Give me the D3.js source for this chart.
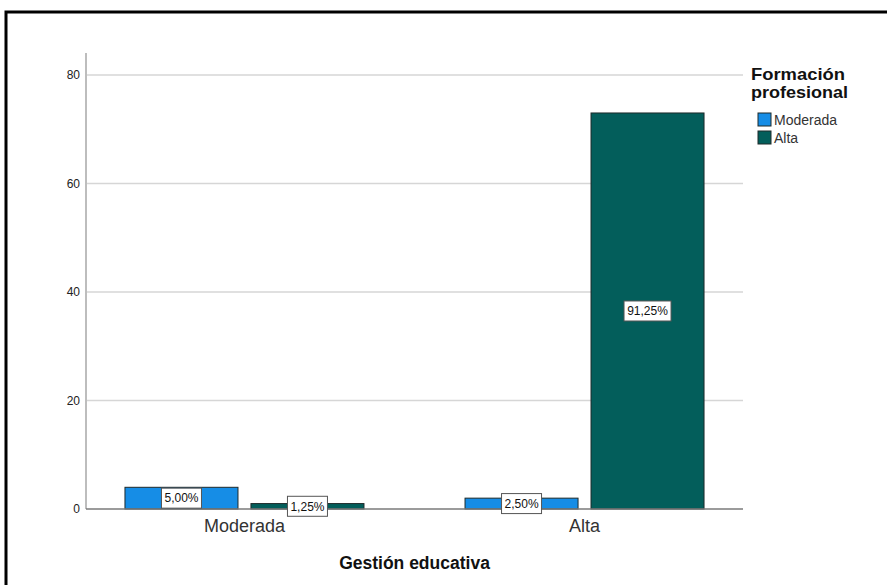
<!DOCTYPE html>
<html>
<head>
<meta charset="utf-8">
<script src="https://cdn.jsdelivr.net/npm/d3@7"></script>
<style>
  html, body { margin: 0; padding: 0; background: #fff; }
  svg { display: block; font-family: "Liberation Sans", Arial, sans-serif; }
</style>
</head>
<body>
<svg id="chart" width="887" height="585"></svg>
<script>
// Gestión educativa (x groups) by Formación profesional (series)
const categories = ["Moderada", "Alta"];
const seriesNames = ["Moderada", "Alta"];
const counts = {
  Moderada: [4, 2],   // Formación profesional = Moderada
  Alta: [1, 73]       // Formación profesional = Alta
};
const percentLabels = {
  Moderada: ["5,00%", "2,50%"],
  Alta: ["1,25%", "91,25%"]
};
const yTicks = [0, 20, 40, 60, 80];
const colors = { Moderada: "#168de6", Alta: "#035e5b" };

const svg = d3.select("#chart");

// outer frame
svg.append("rect")
  .attr("x", 6).attr("y", 12)
  .attr("width", 900).attr("height", 600)
  .attr("fill", "none").attr("stroke", "#000").attr("stroke-width", 3);

const plot = { left: 86, right: 743, top: 53, bottom: 509 };

const y = d3.scaleLinear().domain([0, 80]).range([509, 75]);
const x = d3.scalePoint().domain(categories).range([plot.left, plot.right]).padding(0.466);
const xSub = d3.scaleBand().domain(seriesNames).range([-119.5, 119.5]).paddingInner(0.103);

// gridlines
svg.append("g").selectAll("line").data(yTicks.filter(d => d > 0)).join("line")
  .attr("x1", plot.left).attr("x2", plot.right)
  .attr("y1", d => y(d)).attr("y2", d => y(d))
  .attr("stroke", "#d6d6d6").attr("stroke-width", 1.5);

// y axis
const yAxis = d3.axisLeft(y).tickValues(yTicks).tickSize(0).tickPadding(6);
const gy = svg.append("g").attr("transform", `translate(${plot.left},0)`).call(yAxis);
gy.select(".domain").remove();
gy.selectAll("text").attr("font-size", 12).attr("fill", "#222")
  .attr("font-family", "'Liberation Sans', Arial, sans-serif");
svg.append("line")
  .attr("x1", plot.left).attr("x2", plot.left)
  .attr("y1", plot.top).attr("y2", plot.bottom)
  .attr("stroke", "#bdbdbd").attr("stroke-width", 2);

// bars
const rows = [];
categories.forEach((c, i) => {
  seriesNames.forEach(s => {
    rows.push({ cat: c, series: s, value: counts[s][i], label: percentLabels[s][i] });
  });
});

const bars = svg.append("g");
bars.selectAll("rect").data(rows).join("rect")
  .attr("x", d => x(d.cat) + xSub(d.series))
  .attr("width", xSub.bandwidth())
  .attr("y", d => y(d.value))
  .attr("height", d => y(0) - y(d.value))
  .attr("fill", d => colors[d.series])
  .attr("stroke", "#1e2a2a").attr("stroke-width", 1);

// baseline
svg.append("line")
  .attr("x1", plot.left).attr("x2", plot.right)
  .attr("y1", y(0)).attr("y2", y(0))
  .attr("stroke", "#7a7a7a").attr("stroke-width", 1.5);

// value labels
const lab = svg.append("g").selectAll("g").data(rows).join("g")
  .attr("transform", d => `translate(${x(d.cat) + xSub(d.series) + xSub.bandwidth() / 2},${(y(d.value) + y(0)) / 2})`);
lab.append("rect")
  .attr("x", d => d.label.length > 5 ? -23.5 : -20).attr("y", -10)
  .attr("width", d => d.label.length > 5 ? 47 : 40).attr("height", 20)
  .attr("fill", "#fff").attr("stroke", "#555").attr("stroke-width", 1);
lab.append("text")
  .attr("text-anchor", "middle").attr("dy", "0.36em")
  .attr("font-size", 12).attr("fill", "#111")
  .text(d => d.label);

// category labels
svg.append("g").selectAll("text").data(categories).join("text")
  .attr("x", d => x(d)).attr("y", 532)
  .attr("text-anchor", "middle").attr("font-size", 18).attr("fill", "#333")
  .text(d => d);

// x axis title
svg.append("text")
  .attr("x", (plot.left + plot.right) / 2).attr("y", 569)
  .attr("text-anchor", "middle").attr("font-size", 17.5).attr("font-weight", "bold").attr("fill", "#111")
  .text("Gestión educativa");

// legend
const lg = svg.append("g").attr("transform", "translate(751,0)");
lg.append("text").attr("x", 0).attr("y", 80)
  .attr("font-size", 16.5).attr("font-weight", "bold").attr("fill", "#111")
  .attr("textLength", 94).attr("lengthAdjust", "spacingAndGlyphs").text("Formación");
lg.append("text").attr("x", 0).attr("y", 98)
  .attr("font-size", 16.5).attr("font-weight", "bold").attr("fill", "#111")
  .attr("textLength", 97).attr("lengthAdjust", "spacingAndGlyphs").text("profesional");
const items = lg.selectAll("g.item").data(seriesNames).join("g")
  .attr("class", "item")
  .attr("transform", (d, i) => `translate(7,${113 + i * 18})`);
items.append("rect").attr("width", 13).attr("height", 13)
  .attr("fill", d => colors[d]).attr("stroke", "#1e2a2a").attr("stroke-width", 1);
items.append("text").attr("x", 16).attr("y", 11.5)
  .attr("font-size", 14).attr("fill", "#333").text(d => d);
</script>
</body>
</html>
